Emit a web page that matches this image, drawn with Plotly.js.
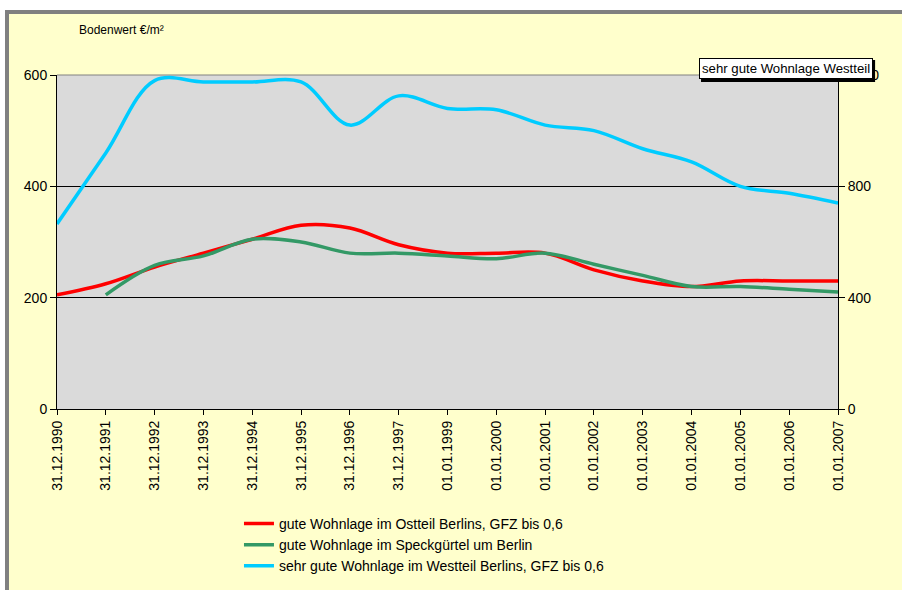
<!DOCTYPE html>
<html>
<head>
<meta charset="utf-8">
<script src="https://cdn.plot.ly/plotly-3.0.1.min.js"></script>
<style>
html,body{margin:0;padding:0;background:#ffffff;width:902px;height:590px;overflow:hidden;}
#frame{position:absolute;left:5px;top:10px;width:897px;height:580px;border-left:4px solid #808080;border-top:4px solid #808080;box-sizing:border-box;background:#FFFFCC;}
#chart{position:absolute;left:0;top:0;width:893px;height:576px;}
</style>
</head>
<body>
<div id="frame"><div id="chart"></div></div>
<script>
var categories = ["31.12.1990","31.12.1991","31.12.1992","31.12.1993","31.12.1994","31.12.1995","31.12.1996","31.12.1997","01.01.1999","01.01.2000","01.01.2001","01.01.2002","01.01.2003","01.01.2004","01.01.2005","01.01.2006","01.01.2007"];
var ostValues = [205,225,255,280,305,330,325,295,280,280,280,250,230,220,230,230,230];
var speckValues = [null,205,258,275,305,300,280,280,275,270,280,260,240,220,220,215,210];
var westValues = [665,920,1180,1175,1175,1175,1020,1125,1080,1075,1020,1000,935,888,800,775,740];
var leftTicks = [0,200,400,600];
var rightTicks = [0,400,800,1200];
var nameOst = "gute Wohnlage im Ostteil Berlins, GFZ bis 0,6";
var nameSpeck = "gute Wohnlage im Speckgürtel um Berlin";
var nameWest = "sehr gute Wohnlage im Westteil Berlins, GFZ bis 0,6";

var font = "Arial, 'Liberation Sans', sans-serif";
var traces = [
  {x: categories, y: ostValues, name: nameOst, type: "scatter", mode: "lines",
   line: {color: "#FF0000", width: 3.5, shape: "spline", smoothing: 1}},
  {x: categories, y: speckValues, name: nameSpeck, type: "scatter", mode: "lines",
   line: {color: "#339966", width: 3.5, shape: "spline", smoothing: 1}},
  {x: categories, y: westValues, name: nameWest, type: "scatter", mode: "lines", yaxis: "y2",
   line: {color: "#00CCFF", width: 3.5, shape: "spline", smoothing: 1}}
];

var layout = {
  width: 893, height: 576,
  margin: {l: 48, r: 64, t: 61, b: 181, autoexpand: false},
  paper_bgcolor: "#FFFFCC",
  plot_bgcolor: "#DADADA",
  font: {family: font, size: 14, color: "#000000"},
  showlegend: true,
  legend: {x: 0.233, y: -0.296, xanchor: "left", yanchor: "top", bgcolor: "rgba(0,0,0,0)",
           font: {family: font, size: 14, color: "#000"}, tracegroupgap: 0, itemwidth: 30},
  xaxis: {type: "category", range: [0, 16], tickangle: -90, ticks: "outside", ticklen: 5,
          tickcolor: "#000", showline: true, linecolor: "#000", linewidth: 1, showgrid: false,
          zeroline: false, tickfont: {family: font, size: 14, color: "#000"}, fixedrange: true},
  yaxis: {range: [0, 600], tickvals: leftTicks, ticks: "outside", ticklen: 6, tickcolor: "#000",
          showline: true, linecolor: "#000", linewidth: 1, showgrid: true, gridcolor: "#000", gridwidth: 1,
          zeroline: false, tickfont: {family: font, size: 14, color: "#000"}},
  yaxis2: {range: [0, 1200], tickvals: rightTicks, overlaying: "y", side: "right", ticks: "outside", ticklen: 6,
           tickcolor: "#000", showline: true, linecolor: "#000", linewidth: 1, showgrid: false, zeroline: false,
           tickfont: {family: font, size: 14, color: "#000"}},
  shapes: [
    {type: "line", xref: "paper", yref: "paper", x0: 0, x1: 1, y0: 1, y1: 1, layer: "between",
     line: {color: "#808080", width: 1}},
    {type: "rect", xref: "paper", yref: "paper", x0: 0.8246, x1: 1.0475, y0: 0.979, y1: 1.045, layer: "above",
     fillcolor: "#000", line: {width: 0}}
  ],
  annotations: [
    {text: "Bodenwert €/m²", xref: "paper", yref: "paper", x: 0.0256, y: 1.135, xanchor: "left", yanchor: "middle",
     showarrow: false, font: {family: font, size: 12, color: "#000"}},
    {text: "sehr gute Wohnlage Westteil", xref: "paper", yref: "paper", x: 0.9328, y: 1.0195, xanchor: "center", yanchor: "middle",
     showarrow: false, bgcolor: "#FFFFFF", bordercolor: "#000", borderwidth: 1, borderpad: 2,
     font: {family: font, size: 13.2, color: "#000"}}
  ]
};
Plotly.newPlot("chart", traces, layout, {displayModeBar: false, staticPlot: true});
</script>
</body>
</html>
